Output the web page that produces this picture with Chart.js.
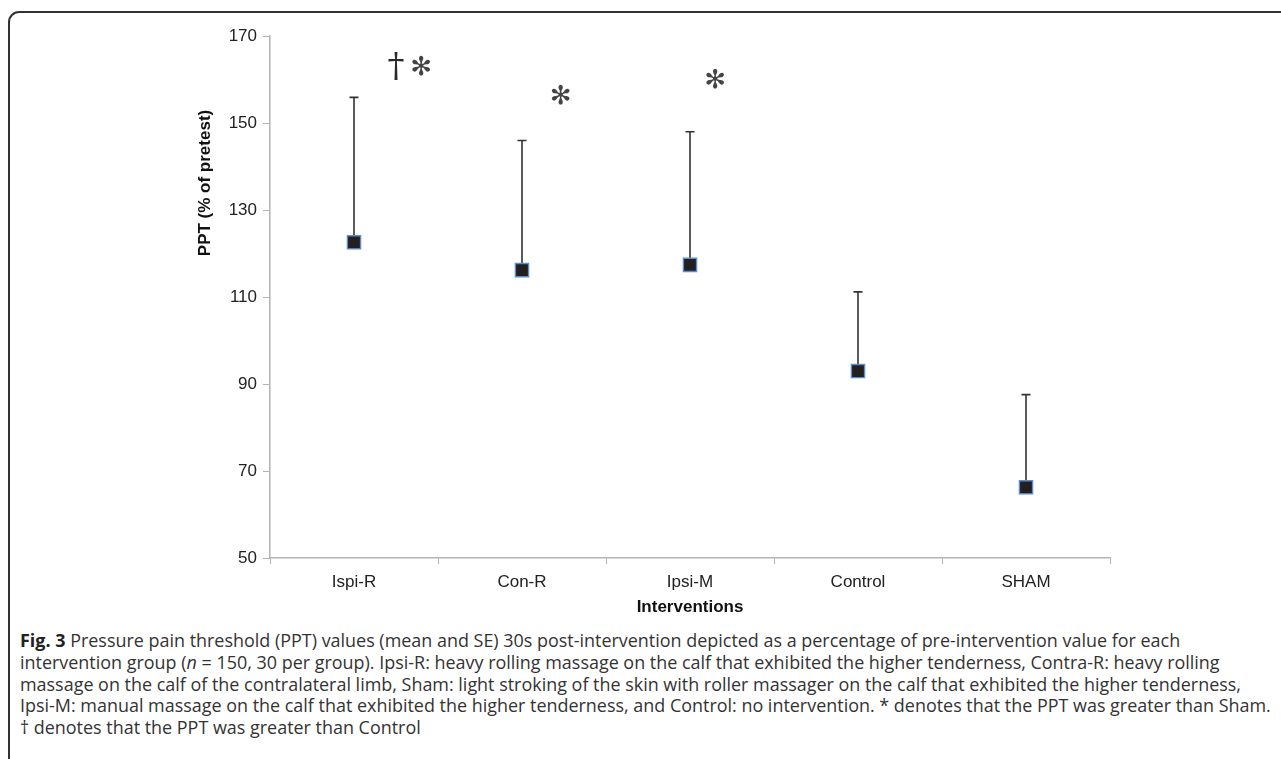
<!DOCTYPE html>
<html>
<head>
<meta charset="utf-8">
<script src="https://cdn.jsdelivr.net/npm/chart.js@4.4.1/dist/chart.umd.min.js"></script>
<style>
  html, body { margin: 0; padding: 0; background: #fff; overflow: hidden; }
  body { width: 1281px; height: 759px; position: relative; }
  .frame {
    position: absolute; left: 8px; top: 11px; right: -30px; bottom: -30px;
    border: 2px solid #333; border-radius: 11px;
  }
  .plot { position: absolute; left: 0; top: 0; width: 1281px; height: 625px; }
  .caption {
    position: absolute; left: 20px; top: 630px; width: 1260px;
    font-family: "Open Sans", sans-serif; font-size: 17.95px; line-height: 21.8px;
    color: #333; white-space: pre;
  }
  .caption b { color: #222; }
</style>
</head>
<body>
<div class="frame"></div>
<div class="plot"><canvas id="ppt"></canvas></div>
<div class="caption"><b>Fig. 3</b> Pressure pain threshold (PPT) values (mean and SE) 30s post-intervention depicted as a percentage of pre-intervention value for each
intervention group (<i>n</i> = 150, 30 per group). Ipsi-R: heavy rolling massage on the calf that exhibited the higher tenderness, Contra-R: heavy rolling
massage on the calf of the contralateral limb, Sham: light stroking of the skin with roller massager on the calf that exhibited the higher tenderness,
Ipsi-M: manual massage on the calf that exhibited the higher tenderness, and Control: no intervention. * denotes that the PPT was greater than Sham.
† denotes that the PPT was greater than Control</div>

<script>
// Data
const groups = ['Ispi-R', 'Con-R', 'Ipsi-M', 'Control', 'SHAM'];
const meanPPT = [122.6, 116.2, 117.4, 93.0, 66.3];
const sePPT = [33.3, 29.8, 30.6, 18.2, 21.3];
const yTicks = [50, 70, 90, 110, 130, 150, 170];

// significance marks: symbol, position on category axis, value
const markSymbols = ['†', '✻', '✻', '✻'];
const markIndex = [0.25, 0.4, 1.23, 2.15];
const markValue = [162.6, 162.6, 156, 159.5];

// one-sided error bars (mean up to mean + SE)
const errorBars = {
  id: 'errorBars',
  beforeDatasetsDraw(chart) {
    const { ctx, scales: { x, y } } = chart;
    ctx.save();
    ctx.strokeStyle = '#333';
    ctx.lineWidth = 1.6;
    meanPPT.forEach((m, i) => {
      const px = x.getPixelForValue(i);
      const y0 = y.getPixelForValue(m);
      const y1 = y.getPixelForValue(m + sePPT[i]);
      ctx.beginPath();
      ctx.moveTo(px, y0);
      ctx.lineTo(px, y1);
      ctx.moveTo(px - 4.5, y1);
      ctx.lineTo(px + 4.5, y1);
      ctx.stroke();
    });
    ctx.restore();
  }
};

// marks + y title (the original title sits above the axis middle)
const sigMarks = {
  id: 'sigMarks',
  afterDatasetsDraw(chart) {
    const { ctx, chartArea, scales: { x, y } } = chart;
    ctx.save();
    ctx.textAlign = 'center';
    ctx.textBaseline = 'middle';
    markSymbols.forEach((s, i) => {
      ctx.fillStyle = s === '†' ? '#2a2a2a' : '#444';
      ctx.font = s === '†' ? '34px "DejaVu Serif"' : 'bold 26px "DejaVu Sans"';
      ctx.fillText(s, x.getPixelForValue(markIndex[i]), y.getPixelForValue(markValue[i]));
    });
    ctx.translate(chartArea.left - 65, chartArea.top + 147);
    ctx.rotate(-Math.PI / 2);
    ctx.fillStyle = '#111';
    ctx.font = 'bold 17px "Liberation Sans"';
    ctx.fillText('PPT (% of pretest)', 0, 0);
    ctx.restore();
  }
};

new Chart(document.getElementById('ppt'), {
  type: 'line',
  data: {
    labels: groups,
    datasets: [{
      data: meanPPT,
      showLine: false,
      pointStyle: 'rect',
      pointRadius: 9.3,
      pointHoverRadius: 9.3,
      pointBackgroundColor: '#231f20',
      pointBorderColor: '#5b8ccc',
      pointBorderWidth: 1.4
    }]
  },
  options: {
    responsive: true,
    maintainAspectRatio: false,
    animation: false,
    events: [],
    layout: { padding: { left: 190, right: 171, top: 36, bottom: 7 } },
    plugins: { legend: { display: false }, tooltip: { enabled: false } },
    scales: {
      x: {
        offset: true,
        grid: { offset: true, drawOnChartArea: false, tickLength: 6, color: '#b3b3b3' },
        border: { color: '#b3b3b3', width: 1.5 },
        ticks: { color: '#222', font: { family: 'Liberation Sans', size: 17 }, padding: 8 },
        title: { display: true, text: 'Interventions', color: '#111',
                 font: { family: 'Liberation Sans', size: 17, weight: 'bold' }, padding: { top: -3, bottom: 0 } }
      },
      y: {
        min: 50,
        max: 170,
        afterBuildTicks: s => { s.ticks = yTicks.map(v => ({ value: v })); },
        afterFit: s => { s.width = 80; },
        grid: { drawOnChartArea: false, tickLength: 7, color: '#b3b3b3' },
        border: { color: '#b3b3b3', width: 1.5 },
        ticks: { color: '#222', font: { family: 'Liberation Sans', size: 17 }, padding: 6 }
      }
    }
  },
  plugins: [errorBars, sigMarks]
});
</script>
</body>
</html>
